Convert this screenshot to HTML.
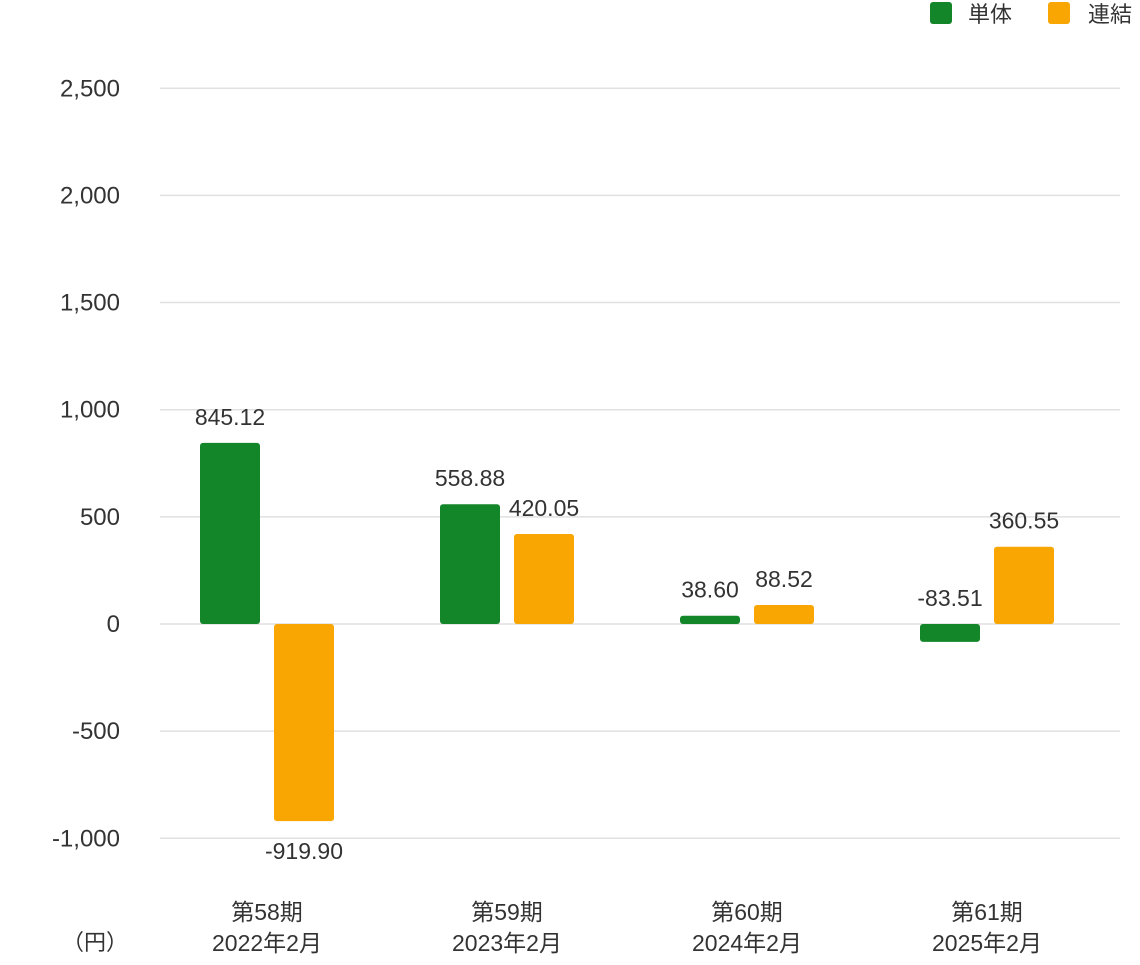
<!DOCTYPE html>
<html><head><meta charset="utf-8"><style>
body{margin:0;background:#fff;}
svg text{font-family:"Liberation Sans","Noto Sans CJK JP",sans-serif;fill:#333;}
</style></head><body>
<svg width="1140" height="960" xmlns="http://www.w3.org/2000/svg">
<g id="grid"></g>
<g id="yticks"></g>
<g id="bars"></g>
<g id="xlabels"></g>
<text x="95" y="950" font-size="22" text-anchor="middle">（円）</text>
<g>
<g><rect x="930" y="2" width="22" height="22" rx="3" fill="#14862a"/><text x="968" y="22" font-size="22">単体</text></g>
<g><rect x="1048" y="2" width="22" height="22" rx="3" fill="#f9a602"/><text x="1088" y="22" font-size="22">連結</text></g>
</g>
</svg>
<script>
const categories=["第58期","第59期","第60期","第61期"];
const subLabels=["2022年2月","2023年2月","2024年2月","2025年2月"];
const tantai=[845.12,558.88,38.60,-83.51];
const renketsu=[-919.90,420.05,88.52,360.55];
const ticks=[2500,2000,1500,1000,500,0,-500,-1000];
const NS="http://www.w3.org/2000/svg";
function y(v){return 624-v*0.2143;}
function bandCenter(i){return 150+240*i+120;}
function el(tag,attrs,parent,txt){const e=document.createElementNS(NS,tag);for(const k in attrs)e.setAttribute(k,attrs[k]);if(txt!==undefined)e.textContent=txt;parent.appendChild(e);return e;}
const grid=document.getElementById('grid'),yt=document.getElementById('yticks'),bars=document.getElementById('bars'),xl=document.getElementById('xlabels');
ticks.forEach(t=>{
 const l=el('line',{x1:160,x2:1120,y1:y(t),y2:y(t),stroke:'#e0e0e0','stroke-width':1.5},grid);
 
 
 const tx=el('text',{x:120,y:y(t)+8,'font-size':24,'text-anchor':'end'},yt,t.toLocaleString('en-US'));
 
 
});
function drawBar(v,cx,color,name){
 const top=y(Math.max(v,0)),bot=y(Math.min(v,0));
 const r=el('rect',{x:cx-30,y:top,width:60,height:Math.max(bot-top,1),rx:3,fill:color},bars);
 
 
 let ly;
 if(v>=0||v>-200) ly=y(Math.max(v,0))-18; else ly=bot+38;
 const t=el('text',{x:cx,y:ly,'font-size':23,'text-anchor':'middle'},bars,v.toFixed(2));
 
 
}
categories.forEach((c,i)=>{
 const cx=bandCenter(i)-3;
 drawBar(tantai[i],cx-37,'#14862a','bar-tantai-'+i);
 drawBar(renketsu[i],cx+37,'#f9a602','bar-renketsu-'+i);
 const a=el('text',{x:cx,y:920,'font-size':23,'text-anchor':'middle'},xl,c);
 
 
 const b=el('text',{x:cx,y:951,'font-size':23,'text-anchor':'middle'},xl,subLabels[i]);
 
 
});
</script>
</body></html>
